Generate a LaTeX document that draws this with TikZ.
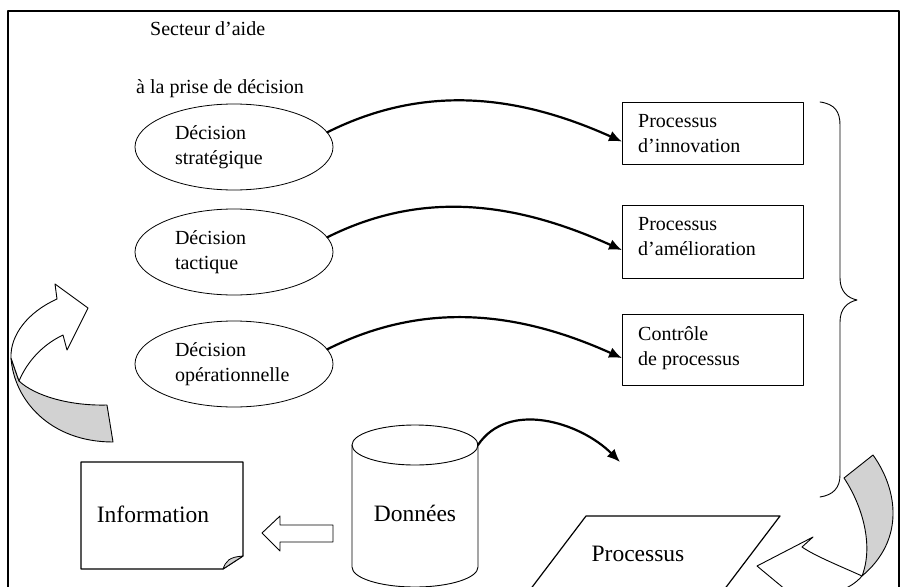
\documentclass[tikz,border=0pt]{standalone}
\usepackage{fontspec}
\setmainfont{Liberation Serif}
\usetikzlibrary{positioning,shapes.geometric,arrows.meta}

\begin{document}
\begin{tikzpicture}[x=1pt, y=-1pt, line cap=round, line join=round,
    decision/.style={draw, ellipse, line width=0.8pt, minimum width=198pt, minimum height=86pt,
      text width=118pt, align=left, inner sep=0pt, font=\fontsize{20}{25}\selectfont},
    procbox/.style={draw, rectangle, line width=1.2pt, minimum width=181pt, anchor=north west},
    boxtext/.style={anchor=north west, align=left, inner xsep=16pt, inner ysep=12pt,
      font=\fontsize{20}{25}\selectfont},
    plain/.style={font=\fontsize{20}{25}\selectfont, inner sep=0pt},
    big/.style={font=\fontsize{23.5}{28}\selectfont, inner sep=0pt},
    flow/.style={line width=2.2pt, -{Latex[length=13pt,width=11pt]}},
    ribbon/.style={draw, line width=0.9pt, fill=gray!35}]

        \useasboundingbox (0,0) rectangle (901,586);
        \clip (0,0) rectangle (901,586);

        % Outer frame
        \draw[line width=1.2pt] (8,600) -- (8,11) -- (899,11) -- (899,600);

        % Title of the sector
        \node[plain, anchor=base west] (title1) at (150,36) {Secteur d’aide};
        \node[plain, anchor=base west] (title2) at (136,93) {à la prise de décision};

        % Decisions
        \node[decision] (e1) at (234,147) {Décision\\stratégique};
        \node[decision] (e2) at (234,252) {Décision\\tactique};
        \node[decision] (e3) at (234,364) {Décision\\opérationnelle};

        % Process boxes
        \node[procbox, minimum height=62pt] (b1) at (622,102) {};
        \node[procbox, minimum height=73pt] (b2) at (622,205) {};
        \node[procbox, minimum height=71pt] (b3) at (622,314) {};
        \node[boxtext] (t1) at (b1.north west) {Processus\\d’innovation};
        \node[boxtext] (t2) at (b2.north west) {Processus\\d’amélioration};
        \node[boxtext] (t3) at (b3.north west) {Contrôle\\de processus};

        % Connect decisions with processes
        \foreach \i in {1,2,3}
            \draw[flow] (e\i.9) .. controls +(100,-50) and +(-100,-45) .. ([yshift=-8pt]b\i.west);

        % Brace
        \draw[line width=0.9pt] (820,102) .. controls (835,104) and (840,112) .. (840,125) -- (840,278)
            .. controls (840,292) and (848,298) .. (857,300) .. controls (848,302) and (840,308) .. (840,322)
            -- (840,475) .. controls (840,488) and (833,495) .. (820,497);

        % Database
        \coordinate (dbtl) at (352,445);
        \coordinate (dbtr) at (478,445);
        \draw[line width=0.9pt] (415,445) ellipse [x radius=63, y radius=20];
        \draw[line width=0.9pt] (dbtl) -- (352,567) arc[start angle=180, end angle=0, x radius=63, y radius=20] -- (dbtr);
        \node[big] (data) at (415,513) {Données};

        % Information sheet
        \draw[line width=1.2pt] (81,462) -- (243,462) -- (243,556) -- (223,569) -- (81,569) -- cycle;
        \filldraw[fill=gray!35, line width=0.8pt] (223,569) .. controls (226,561) and (229,557) .. (243,556) -- cycle;
        \node[big] (info) at (153,514) {Information};

        % Block arrow from data to information
        \draw[line width=0.9pt] (333,525) -- (280,525) -- (280,516) -- (262,533) -- (280,551) -- (280,542) -- (333,542) -- cycle;

        % Process
        \draw[line width=1.2pt] (517,607) -- (586,516) -- (780,516) -- (711,607);
        \node[big] (proc) at (638,554) {Processus};
        \coordinate (procin) at (620,462);
        \draw[flow] (dbtr) .. controls +(30,-45) and +(-40,-40) .. (procin);

        % Left ribbon arrow
        \filldraw[ribbon] (11,358) .. controls (14,400) and (50,442) .. (113,442) -- (107,405)
            .. controls (70,406) and (35,396) .. (19,381) -- cycle;
        \filldraw[ribbon, fill=white] (57,299) -- (55,284) -- (88,308) -- (67,350) -- (63,335)
            .. controls (42,345) and (27,362) .. (19,381) -- (11,358) .. controls (10,335) and (28,312) .. (57,299) -- cycle;

        % Right ribbon arrow
        \filldraw[ribbon] (844,478) -- (873,455) .. controls (898,490) and (905,540) .. (862,576)
            .. controls (874,545) and (862,505) .. (844,478) -- cycle;
        \filldraw[ribbon, fill=white] (862,576) .. controls (840,566) and (815,556) .. (802,547) -- (813,537)
            -- (757,566) -- (798,600) -- (812,590) .. controls (830,596) and (850,590) .. (862,576) -- cycle;
\end{tikzpicture}
\end{document}
